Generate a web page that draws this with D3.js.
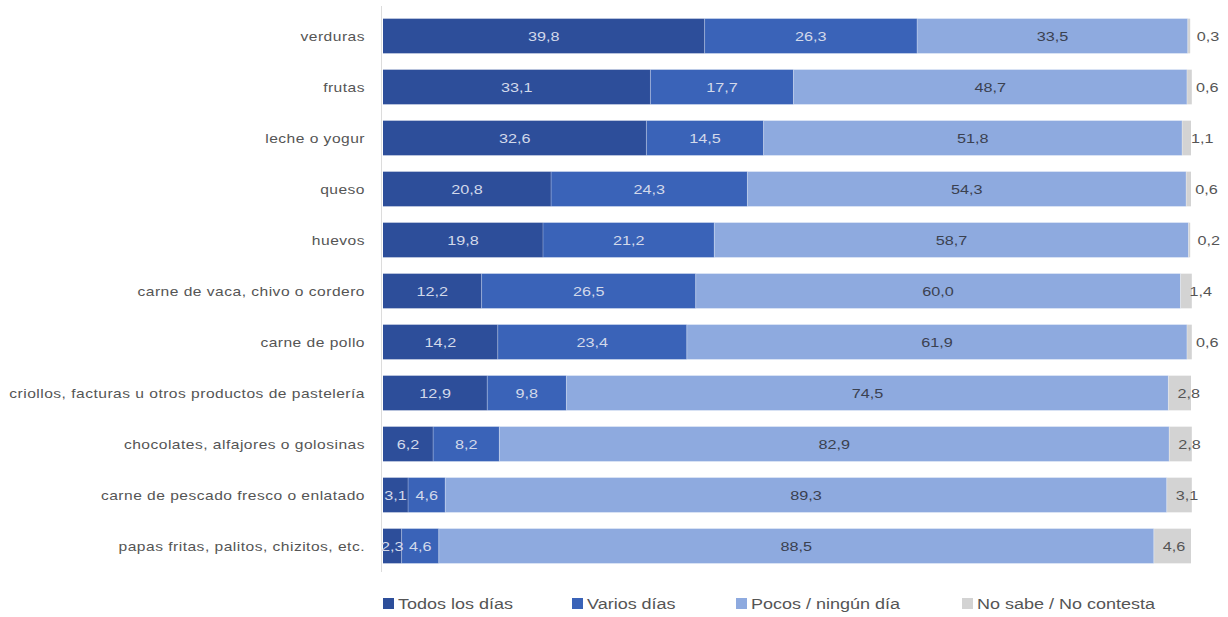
<!DOCTYPE html>
<html>
<head>
  <meta charset="utf-8">
  <style type="text/css">
    body { margin: 0; background: #fff; }
    svg text { font-family: "Liberation Sans", Arial, sans-serif; }
  </style>
  <script src="https://d3js.org/d3.v7.min.js"></script>
</head>
<body>
  <div id="chart"></div>
  <script type="text/javascript">
    // datos (porcentajes)
    var categorias = ["verduras", "frutas", "leche o yogur", "queso", "huevos",
      "carne de vaca, chivo o cordero", "carne de pollo",
      "criollos, facturas u otros productos de pastelería",
      "chocolates, alfajores o golosinas", "carne de pescado fresco o enlatado",
      "papas fritas, palitos, chizitos, etc."];
    var series = ["Todos los días", "Varios días", "Pocos / ningún día", "No sabe / No contesta"];
    var todos   = [39.8, 33.1, 32.6, 20.8, 19.8, 12.2, 14.2, 12.9, 6.2, 3.1, 2.3];
    var varios  = [26.3, 17.7, 14.5, 24.3, 21.2, 26.5, 23.4, 9.8, 8.2, 4.6, 4.6];
    var pocos   = [33.5, 48.7, 51.8, 54.3, 58.7, 60.0, 61.9, 74.5, 82.9, 89.3, 88.5];
    var nosabe  = [0.3, 0.6, 1.1, 0.6, 0.2, 1.4, 0.6, 2.8, 2.8, 3.1, 4.6];
    var colores = ["#2d4e9a", "#3a63b8", "#8eaadf", "#d3d3d3"];

    var width = 1228, height = 617;
    var stretch = 1.2; // el texto del original esta ensanchado
    var svg = d3.select("#chart").append("svg")
      .attr("width", width).attr("height", height);

    var x = d3.scaleLinear().domain([0, 100]).range([383, 1191]);
    var y = d3.scaleBand().domain(categorias).range([10.5, 571.5])
      .paddingInner(0.32).paddingOuter(0.16);

    var valores = [todos, varios, pocos, nosabe];
    var filas = categorias.map(function(c, i) {
      var acc = 0;
      return valores.map(function(v, s) {
        var seg = { cat: c, serie: s, v: v[i], x0: acc, x1: acc + v[i] };
        acc += v[i];
        return seg;
      });
    });
    var segs = d3.merge(filas);

    function pos(px, py) {
      return "translate(" + px + "," + py + ") scale(" + stretch + ",1)";
    }

    // eje vertical
    svg.append("line")
      .attr("x1", 381.5).attr("x2", 381.5).attr("y1", 6).attr("y2", 572)
      .attr("stroke", "#dcdcdc").attr("stroke-width", 1);

    svg.selectAll("rect.seg").data(segs).enter().append("rect")
      .attr("class", "seg")
      .attr("x", function(d) { return x(d.x0); })
      .attr("width", function(d) { return x(d.x1) - x(d.x0); })
      .attr("y", function(d) { return y(d.cat); })
      .attr("height", y.bandwidth())
      .attr("fill", function(d) { return colores[d.serie]; });

    // separadores finos entre segmentos
    svg.selectAll("line.sep").data(segs.filter(function(d) { return d.serie > 0; }))
      .enter().append("line")
      .attr("x1", function(d) { return x(d.x0); })
      .attr("x2", function(d) { return x(d.x0); })
      .attr("y1", function(d) { return y(d.cat); })
      .attr("y2", function(d) { return y(d.cat) + y.bandwidth(); })
      .attr("stroke", "#ffffff").attr("stroke-opacity", 0.3).attr("stroke-width", 1);

    var fmt = function(v) { return v.toFixed(1).replace(".", ","); };

    svg.selectAll("text.val").data(segs).enter().append("text")
      .attr("class", "val")
      .attr("transform", function(d) {
        var px = d.serie === 3 ? x(d.x0) + 9 : (x(d.x0) + x(d.x1)) / 2;
        return pos(px, y(d.cat) + y.bandwidth() / 2);
      })
      .attr("dy", "0.36em")
      .attr("text-anchor", function(d) { return d.serie === 3 ? "start" : "middle"; })
      .attr("font-size", "13.5px")
      .attr("fill", function(d) {
        return d.serie < 2 ? "#d2d9ea" : (d.serie === 2 ? "#3b4150" : "#555555");
      })
      .text(function(d) { return fmt(d.v); });

    svg.selectAll("text.cat").data(categorias).enter().append("text")
      .attr("class", "cat")
      .attr("transform", function(d) { return pos(365, y(d) + y.bandwidth() / 2); })
      .attr("dy", "0.36em")
      .attr("text-anchor", "end")
      .attr("font-size", "13px")
      .attr("letter-spacing", "0.4px")
      .attr("fill", "#555555")
      .text(function(d) { return d; });

    // leyenda
    var legX = [383, 572, 736, 962];
    var leg = svg.selectAll("g.leg").data(series).enter().append("g")
      .attr("class", "leg")
      .attr("transform", function(d, i) { return "translate(" + legX[i] + ",604)"; });
    leg.append("rect")
      .attr("x", 0).attr("y", -6).attr("width", 11).attr("height", 11)
      .attr("fill", function(d, i) { return colores[i]; });
    leg.append("text")
      .attr("transform", pos(15, 0))
      .attr("dy", "0.36em")
      .attr("font-size", "15px").attr("fill", "#555555")
      .text(function(d) { return d; });
  </script>
</body>
</html>
